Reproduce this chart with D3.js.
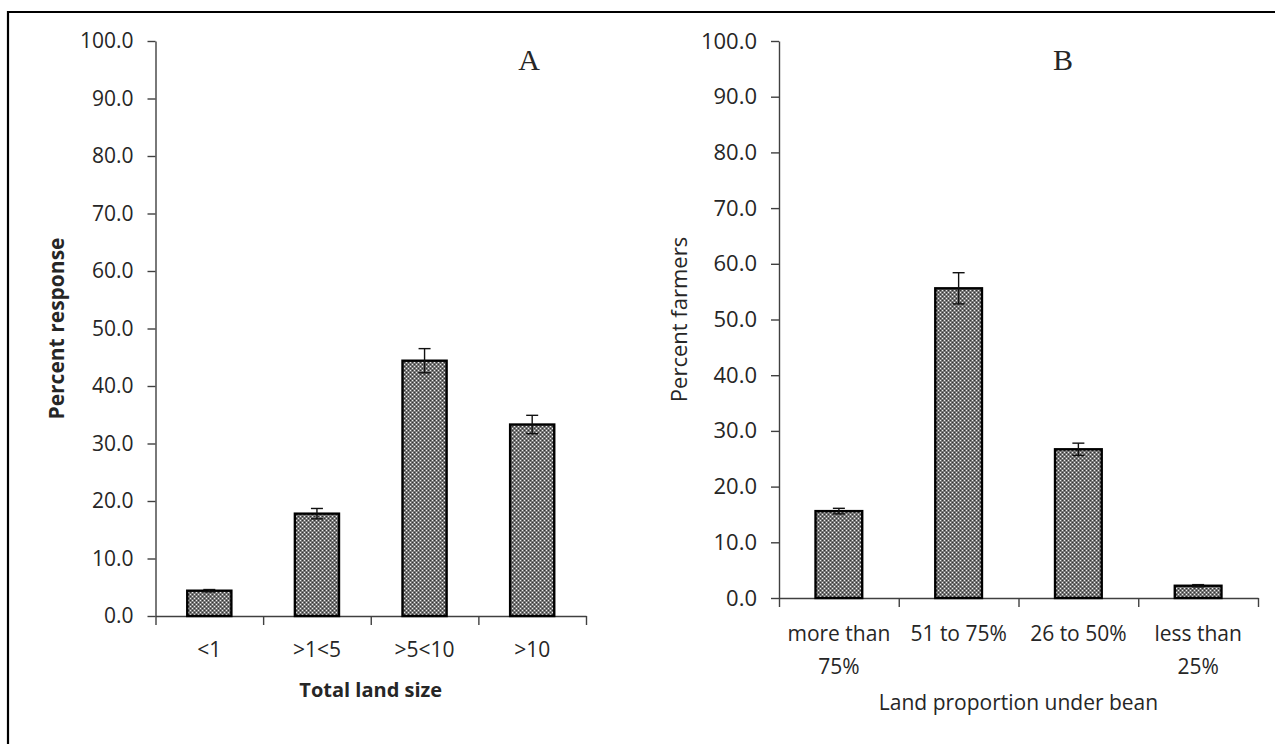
<!DOCTYPE html>
<html>
<head>
<meta charset="utf-8">
<script src="https://cdn.jsdelivr.net/npm/d3@7"></script>
<style>
  body { margin: 0; background: #fff; }
  svg { display: block; }
  text { font-family: "Open Sans", "Noto Sans", sans-serif; fill: #262626; }
</style>
</head>
<body>
<svg id="chart" width="1275" height="744"></svg>
<script>
// panel A
const catsA = ["<1", ">1<5", ">5<10", ">10"];
const valsA = [4.4, 17.8, 44.4, 33.3];
const errA = [0.2, 0.9, 2.1, 1.6];

// panel B
const catsB = ["more than|75%", "51 to 75%", "26 to 50%", "less than|25%"];
const valsB = [15.6, 55.6, 26.7, 2.2];
const errB = [0.5, 2.8, 1.1, 0.2];

const yTicks = [0, 10, 20, 30, 40, 50, 60, 70, 80, 90, 100];

const svg = d3.select("#chart");

// Excel style dotted fill
const defs = svg.append("defs");
const pat = defs.append("pattern")
  .attr("id", "dots")
  .attr("patternUnits", "userSpaceOnUse")
  .attr("width", 4).attr("height", 4);
pat.append("rect").attr("width", 4).attr("height", 4).attr("fill", "#777");
[[0, 0], [2, 2]].forEach(([x, y]) => {
  pat.append("rect").attr("x", x).attr("y", y).attr("width", 1).attr("height", 1).attr("fill", "#eee");
});
[[2, 0], [0, 2]].forEach(([x, y]) => {
  pat.append("rect").attr("x", x).attr("y", y).attr("width", 1).attr("height", 1).attr("fill", "#333");
});

// frame (left + top)
svg.append("path")
  .attr("d", "M8,744 L8,12 L1275,12")
  .attr("fill", "none")
  .attr("stroke", "#000")
  .attr("stroke-width", 2.2);

function drawPanel(cfg) {
  const { cats, vals, errs, x0, x1, yTop, yBottom, barRatio } = cfg;
  const g = svg.append("g");

  const y = d3.scaleLinear().domain([0, 100]).range([yBottom, yTop]);
  const x = d3.scaleBand().domain(cats).range([x0, x1])
    .paddingInner(1 - barRatio).paddingOuter((1 - barRatio) / 2);

  // y axis
  const yAxis = g.append("g")
    .attr("transform", `translate(${x0},0)`)
    .call(d3.axisLeft(y).tickValues(yTicks).tickFormat(d3.format(".1f")).tickSize(8).tickPadding(14).tickSizeOuter(0));
  yAxis.selectAll("text").style("font-size", cfg.tickFont + "px").attr("fill", "#262626")
    .style("font-family", "'Open Sans', sans-serif");
  yAxis.selectAll("line, path").attr("stroke", "#404040").attr("stroke-width", 1.4);

  // x axis: boundary ticks
  const xb = d3.scaleLinear().domain([0, cats.length]).range([x0, x1]);
  const xAxis = g.append("g")
    .attr("transform", `translate(0,${yBottom})`)
    .call(d3.axisBottom(xb).ticks(cats.length).tickSize(9).tickFormat("").tickSizeOuter(0));
  xAxis.selectAll("line, path").attr("stroke", "#404040").attr("stroke-width", 1.4);

  // category labels
  const lab = g.append("g").selectAll("text")
    .data(cats)
    .join("text")
    .attr("x", d => x(d) + x.bandwidth() / 2)
    .attr("y", yBottom + cfg.labelOffset)
    .attr("text-anchor", "middle")
    .style("font-size", cfg.catFont + "px");
  lab.each(function(d) {
    d.split("|").forEach((line, i) => {
      d3.select(this).append("tspan")
        .attr("x", x(d) + x.bandwidth() / 2)
        .attr("dy", i === 0 ? 0 : cfg.lineGap)
        .text(line);
    });
  });

  // bars
  g.append("g").selectAll("rect")
    .data(vals)
    .join("rect")
    .attr("x", (d, i) => x(cats[i]))
    .attr("y", d => y(d))
    .attr("width", x.bandwidth())
    .attr("height", d => yBottom - y(d))
    .attr("fill", "url(#dots)")
    .attr("stroke", "#000")
    .attr("stroke-width", 2.4);

  // error bars
  const eb = g.append("g").attr("stroke", "#111").attr("stroke-width", 1.4);
  vals.forEach((v, i) => {
    const cx = x(cats[i]) + x.bandwidth() / 2;
    const hi = y(v + errs[i]);
    const lo = y(v - errs[i]);
    eb.append("line").attr("x1", cx).attr("x2", cx).attr("y1", hi).attr("y2", lo);
    eb.append("line").attr("x1", cx - 6).attr("x2", cx + 6).attr("y1", hi).attr("y2", hi);
    eb.append("line").attr("x1", cx - 6).attr("x2", cx + 6).attr("y1", lo).attr("y2", lo);
  });

  // axis titles
  g.append("text")
    .attr("transform", `translate(${cfg.yTitleX},${(yTop + yBottom) / 2 + cfg.yTitleShift}) rotate(-90)`)
    .attr("text-anchor", "middle")
    .style("font-size", cfg.yTitleFont + "px")
    .style("font-weight", cfg.bold ? "bold" : "normal")
    .text(cfg.yTitle);

  g.append("text")
    .attr("x", (x0 + x1) / 2)
    .attr("y", cfg.xTitleY)
    .attr("text-anchor", "middle")
    .style("font-size", cfg.xTitleFont + "px")
    .style("font-weight", cfg.bold ? "bold" : "normal")
    .text(cfg.xTitle);

  // panel letter
  g.append("text")
    .attr("x", cfg.letterX)
    .attr("y", 70)
    .attr("text-anchor", "middle")
    .style("font-family", "'Liberation Serif', 'DejaVu Serif', serif")
    .style("font-size", "30px")
    .attr("fill", "#000")
    .text(cfg.letter);
}

drawPanel({
  cats: catsA, vals: valsA, errs: errA,
  x0: 155.5, x1: 586, yTop: 41, yBottom: 616, barRatio: 0.41,
  tickFont: 21, catFont: 21, labelOffset: 41, lineGap: 33,
  yTitle: "Percent response", yTitleX: 64, yTitleShift: 0, yTitleFont: 21,
  xTitle: "Total land size", xTitleY: 697, xTitleFont: 20, bold: true,
  letter: "A", letterX: 529
});

drawPanel({
  cats: catsB, vals: valsB, errs: errB,
  x0: 779, x1: 1258, yTop: 41, yBottom: 598, barRatio: 0.39,
  tickFont: 22, catFont: 21, labelOffset: 43, lineGap: 33,
  yTitle: "Percent farmers", yTitleX: 687, yTitleShift: 0, yTitleFont: 22,
  xTitle: "Land proportion under bean", xTitleY: 710, xTitleFont: 21, bold: false,
  letter: "B", letterX: 1063
});
</script>
</body>
</html>
